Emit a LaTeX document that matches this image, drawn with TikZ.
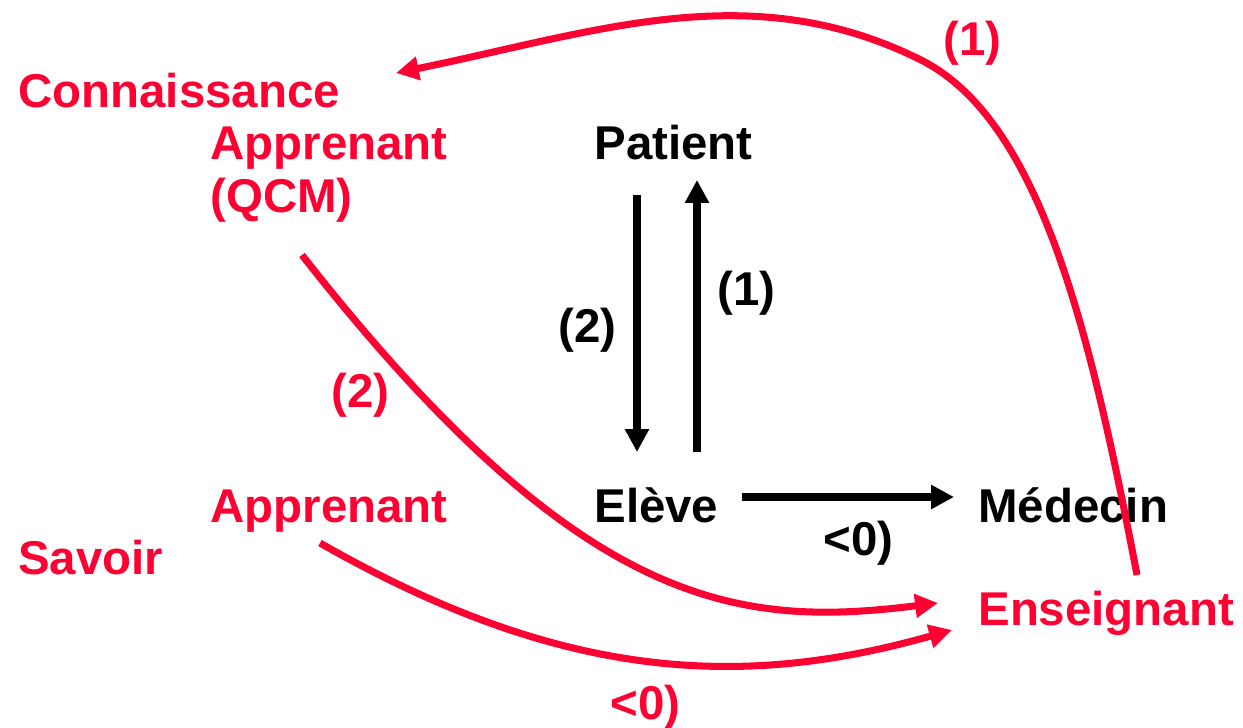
\documentclass[tikz,border=0pt]{standalone}
\usepackage{fontspec}
\setmainfont{Liberation Sans}
\usepackage{xcolor}
\usetikzlibrary{arrows.meta,calc}
\definecolor{ensred}{HTML}{FF0033}

\begin{document}
\begin{tikzpicture}[x=0.02cm,y=-0.02cm,font=\fontsize{27}{30}\selectfont\bfseries,
  lbl/.style={inner sep=0pt,anchor=base west},
  redlbl/.style={lbl,text=ensred},
  blkarrow/.style={-{Triangle[length=13pt,width=13pt]},line width=4pt},
  redarrow/.style={blkarrow,ensred}]
  \useasboundingbox (0,0) rectangle (1243,727);
  % left column (red)
  \node[redlbl] (conn) at (18,107) {Connaissance};
  \node[redlbl,align=left] (apqcm) at (210,212) {Apprenant\\(QCM)};
  \node[redlbl] (appr) at (210,522) {Apprenant};
  \node[redlbl] (savoir) at (18,574) {Savoir};
  \node[redlbl] (ens) at (978,625) {Enseignant};
  % black triangle
  \node[lbl] (patient) at (594,159) {Patient};
  \node[lbl] (eleve) at (594,522) {El\`eve};
  \node[lbl] (medecin) at (978,522) {M\'edecin};
  \draw[blkarrow] ($(patient.base west)+(43,36)$) -- ($(eleve.base west)+(43,-70)$);
  \draw[blkarrow] ($(eleve.base west)+(103,-70)$) -- ($(patient.base west)+(103,21)$);
  \draw[blkarrow] ($(eleve.base west)+(148,-25)$) -- ($(medecin.base west)+(-24,-25)$);
  \node[lbl] (lbltwo) at (558,342) {(2)};
  \node[lbl] (lblone) at (717,305) {(1)};
  \node[lbl] (lblneg) at (823,555) {<0)};
  % red arrows
  \draw[redarrow] ($(ens.base west)+(159,-50)$) .. controls (1090,330) and (1040,120) .. (921,60)
    .. controls (751,-25) and (596,32) .. ($(conn.base west)+(378,-34)$);
  \draw[redarrow] ($(apqcm.base west)+(92,43)$) .. controls (581,611) and (738,628) .. ($(ens.base west)+(-40,-22)$);
  \draw[redarrow] ($(appr.base west)+(110,21)$) .. controls (560,680) and (740,690) .. ($(ens.base west)+(-26,5)$);
  \node[redlbl] (redone) at (943,55) {(1)};
  \node[redlbl] (redtwo) at (331,407) {(2)};
  \node[redlbl] (redneg) at (610,719) {<0)};
\end{tikzpicture}
\end{document}
